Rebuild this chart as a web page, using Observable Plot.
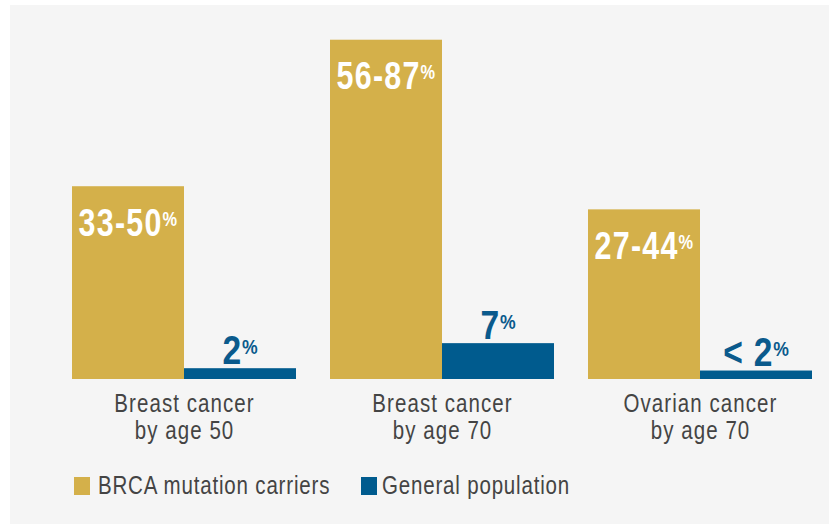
<!DOCTYPE html>
<html>
<head>
<meta charset="utf-8">
<script src="https://cdn.jsdelivr.net/npm/d3@7"></script>
<script src="https://cdn.jsdelivr.net/npm/@observablehq/plot@0.6"></script>
<style>
  html, body { margin: 0; padding: 0; background: #ffffff; }
  #panel {
    position: absolute; left: 10px; top: 5px; width: 819px; height: 519px;
    background: #f5f5f5; overflow: hidden;
    font-family: "Liberation Sans", Arial, sans-serif;
  }
  #panel svg { display: block; background: transparent; }
  #legend { position: relative; height: 69px; font-size: 25px; color: #444; line-height: 25px; }
  .sw { position: absolute; top: 22px; width: 16px; height: 18px; }
  .lt { position: absolute; top: 18px; white-space: nowrap; letter-spacing: 1px;
        transform: scaleX(0.82); transform-origin: 0 0; }
</style>
</head>
<body>
<div id="panel"></div>
<script>
// Data
const categories = ["Breast cancer\nby age 50", "Breast cancer\nby age 70", "Ovarian cancer\nby age 70"];
const series = ["BRCA mutation carriers", "General population"];
// bar heights (% units)
const brcaValues = [50, 88, 44];
const generalValues = [2.8, 9.3, 2.2];
// labels printed on the bars
const brcaLabels = ["33-50%", "56-87%", "27-44%"];
const generalLabels = ["2%", "7%", "< 2%"];
const colors = ["#d4b04a", "#005b8e"];

const rows = [];
categories.forEach((c, i) => {
  rows.push({cat: c, s: series[0], v: brcaValues[i], label: brcaLabels[i]});
  rows.push({cat: c, s: series[1], v: generalValues[i], label: generalLabels[i]});
});

const font = "'Liberation Sans', Arial, sans-serif";

const chart = Plot.plot({
  width: 819,
  height: 450,
  marginLeft: 62,
  marginRight: 17,
  marginTop: 27,
  marginBottom: 76,
  style: {background: "transparent", fontFamily: font, color: "#444"},
  fx: {domain: categories, paddingInner: 0.132, paddingOuter: 0, label: null, axis: null},
  x: {domain: series, padding: 0, axis: null},
  y: {domain: [0, 90], axis: null},
  color: {domain: series, range: colors},
  marks: [
    Plot.barY(rows, {fx: "cat", x: "s", y: "v", fill: "s", inset: 0}),
    Plot.text(rows.filter(d => d.s === series[0]), {
      fx: "cat", x: "s", y: "v", text: "label", dy: 49, lineAnchor: "bottom",
      fill: "#ffffff", fontSize: 39, fontWeight: "bold", ariaLabel: "gold-label"
    }),
    Plot.text(rows.filter(d => d.s === series[1]), {
      fx: "cat", x: "s", y: "v", text: "label", dy: -5, lineAnchor: "bottom",
      fill: "#0a5a8c", fontSize: 40, fontWeight: "bold", ariaLabel: "blue-label"
    }),
    Plot.axisFx({anchor: "bottom", tickSize: 0, tickPadding: 13, fontSize: 25,
      lineHeight: 1.08, label: null, fill: "#444", ariaLabel: "cat-label"})
  ]
});

// horizontally condense a text element around its anchor
function squeeze(el, s) {
  const t = el.getAttribute("transform") || "";
  const x = +el.getAttribute("x") || 0, y = +el.getAttribute("y") || 0;
  el.removeAttribute("x"); el.removeAttribute("y");
  el.setAttribute("transform", `${t} translate(${x},${y}) scale(${s},1)`);
}

const valueTexts = Array.from(chart.querySelectorAll("text"))
  .filter(el => /^[<\s\d-]+%$/.test(el.textContent.trim()));
valueTexts.forEach(el => {
  const s = el.textContent;
  const isGold = /\d-\d/.test(s);
  el.textContent = s.slice(0, -1);
  el.setAttribute("letter-spacing", isGold ? "1.6" : "1");
  const t = document.createElementNS("http://www.w3.org/2000/svg", "tspan");
  t.style.fontSize = "21px";
  t.setAttribute("dy", "-10");
  t.textContent = "%";
  el.appendChild(t);
  squeeze(el, isGold ? 0.78 : 0.84);
});

const catTexts = Array.from(chart.querySelectorAll("text"))
  .filter(el => /cancer/.test(el.textContent));
catTexts.forEach(el => {
  el.setAttribute("letter-spacing", "1.3");
  squeeze(el, 0.82);
});

const panel = document.getElementById("panel");
panel.appendChild(chart);

const legend = document.createElement("div");
legend.id = "legend";
const swX = [64, 351], txX = [88, 372];
series.forEach((s, i) => {
  const sw = document.createElement("span");
  sw.className = "sw";
  sw.style.left = swX[i] + "px";
  sw.style.background = colors[i];
  legend.appendChild(sw);
  const lt = document.createElement("span");
  lt.className = "lt";
  lt.style.left = txX[i] + "px";
  lt.textContent = s;
  legend.appendChild(lt);
});
panel.appendChild(legend);
</script>
</body>
</html>
